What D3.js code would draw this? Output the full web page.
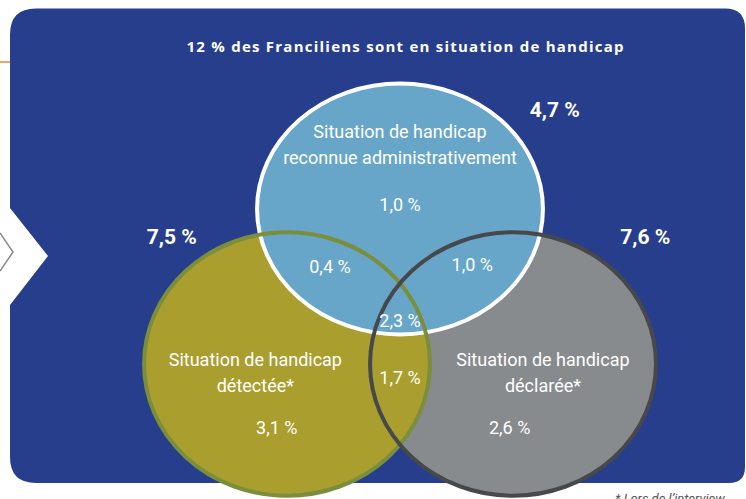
<!DOCTYPE html>
<html>
<head>
<meta charset="utf-8">
<script src="https://cdn.jsdelivr.net/npm/d3@7"></script>
<style>
  body { margin: 0; background: #fff; }
  svg { display: block; }
  text { font-family: Roboto, "Open Sans", sans-serif; fill: #fff; }
</style>
</head>
<body>
<div id="container"></div>
<script>
// values (share of the population, in %)
const total = 12;
const setKeys = ["reconnue", "detectee", "declaree"];
const setNames = [
  ["Situation de handicap", "reconnue administrativement"],
  ["Situation de handicap", "détectée*"],
  ["Situation de handicap", "déclarée*"]
];
const setTotals = [4.7, 7.5, 7.6];
const regionKeys = ["reconnue", "detectee", "declaree", "reconnue+detectee", "reconnue+declaree", "detectee+declaree", "all"];
const regionValues = [1.0, 3.1, 2.6, 0.4, 1.0, 1.7, 2.3];
const titleText = `${total} % des Franciliens sont en situation de handicap`;
const footnote = "* Lors de l’interview";

const width = 746, height = 499;

// layout of the diagram in unit coordinates (0,0 = middle between the two lower circles)
const layout = {
  reconnue: { cx: 0, cy: -1, rx: 1.265, ry: 0.81 },
  detectee: { cx: -1, cy: 0, rx: 1.265, ry: 0.85 },
  declaree: { cx: 1, cy: 0, rx: 1.265, ry: 0.85 }
};
const style = {
  reconnue: { fill: "#67a6c8", stroke: "#ffffff" },
  detectee: { fill: "#aa9e2e", stroke: "#7a8e3c" },
  declaree: { fill: "#888b8e", stroke: "#47484c" }
};
// where the labels sit, unit coordinates
const nameAt = { reconnue: [0, -1.5], detectee: [-1.28, -0.03], declaree: [1.265, -0.03] };
const setValueAt = { reconnue: [0, -1.03], detectee: [-1.09, 0.41], declaree: [0.97, 0.41] };
const totalAt = { reconnue: [1.37, -1.64], detectee: [-2.02, -0.82], declaree: [2.17, -0.82] };
const regionAt = {
  "reconnue+detectee": [-0.62, -0.63],
  "reconnue+declaree": [0.64, -0.64],
  "detectee+declaree": [0, 0.09],
  "all": [0, -0.28]
};

const x = d3.scaleLinear().domain([-1, 1]).range([287, 513]);
const y = d3.scaleLinear().domain([-1, 0]).range([209, 364]);
const unitX = x(1) - x(0), unitY = y(1) - y(0);

const fr = d3.formatLocale({ decimal: ",", thousands: " ", grouping: [3], currency: ["", " €"] });
const pct = v => fr.format(".1f")(v) + " %";

const svg = d3.select("#container").append("svg")
  .attr("width", width)
  .attr("height", height);

// small bits of the page around the panel
svg.append("line")
  .attr("x1", 0).attr("x2", 11).attr("y1", 62).attr("y2", 62)
  .attr("stroke", "#f0882a").attr("stroke-width", 1.5);
svg.append("path")
  .attr("d", "M0,233 L13,252 L0,271")
  .attr("fill", "none").attr("stroke", "#8a8a8a").attr("stroke-width", 1.5);

// blue panel with rounded corners and the arrow notch on the left
const L = 10, R = 745, T = 8.5, B = 483;
svg.append("path")
  .attr("d", `M${L + 26},${T} H${R - 20} Q${R},${T} ${R},${T + 20} V${B - 16} Q${R},${B} ${R - 16},${B}
    H${L + 26} Q${L},${B} ${L},${B - 26} V305 L48,256 L${L},208 V${T + 26} Q${L},${T} ${L + 26},${T} Z`)
  .attr("fill", "#263e8c");

// title (css would beat the attribute, so style it)
svg.append("text")
  .attr("x", 405).attr("y", 47).attr("dy", "0.35em")
  .attr("text-anchor", "middle")
  .style("font-family", "'Open Sans', sans-serif")
  .attr("font-size", 15).attr("font-weight", "bold")
  .attr("textLength", 437).attr("lengthAdjust", "spacing")
  .text(titleText);

// fills first, grey under olive under blue
const drawOrder = ["declaree", "detectee", "reconnue"];
svg.selectAll(".set-fill")
  .data(drawOrder)
  .join("ellipse")
  .attr("class", "set-fill")
  .attr("cx", k => x(layout[k].cx))
  .attr("cy", k => y(layout[k].cy))
  .attr("rx", k => layout[k].rx * unitX)
  .attr("ry", k => layout[k].ry * unitY)
  .attr("fill", k => style[k].fill);

// outlines on top of every fill
svg.selectAll(".set-line")
  .data(["reconnue", "detectee", "declaree"])
  .join("ellipse")
  .attr("class", "set-line")
  .attr("cx", k => x(layout[k].cx))
  .attr("cy", k => y(layout[k].cy))
  .attr("rx", k => layout[k].rx * unitX)
  .attr("ry", k => layout[k].ry * unitY)
  .attr("fill", "none")
  .attr("stroke", k => style[k].stroke)
  .attr("stroke-width", 4);

// set names, two lines each
setKeys.forEach((k, i) => {
  const t = svg.append("text")
    .attr("class", "set-name")
    .attr("text-anchor", "middle")
    .attr("font-size", 18);
  setNames[i].forEach((line, j) => {
    t.append("tspan")
      .attr("x", x(nameAt[k][0]))
      .attr("y", y(nameAt[k][1]) + j * 26)
      .attr("dy", "0.35em")
      .text(line);
  });
});

// values of each region
regionKeys.forEach((k, i) => {
  const pos = setKeys.includes(k) ? setValueAt[k] : regionAt[k];
  svg.append("text")
    .attr("class", "region-value")
    .attr("x", x(pos[0]))
    .attr("y", y(pos[1]))
    .attr("dy", "0.35em")
    .attr("text-anchor", "middle")
    .attr("font-size", 18)
    .text(pct(regionValues[i]));
});

// totals outside the circles
setKeys.forEach((k, i) => {
  svg.append("text")
    .attr("class", "set-total")
    .attr("x", x(totalAt[k][0]))
    .attr("y", y(totalAt[k][1]))
    .attr("dy", "0.35em")
    .attr("text-anchor", "middle")
    .attr("font-size", 21)
    .attr("font-weight", "bold")
    .text(pct(setTotals[i]));
});

// footnote, partly cut by the bottom of the page
svg.append("text")
  .attr("x", 615).attr("y", 503)
  .attr("font-size", 13)
  .attr("font-style", "italic")
  .style("fill", "#555")
  .text(footnote);
</script>
</body>
</html>
